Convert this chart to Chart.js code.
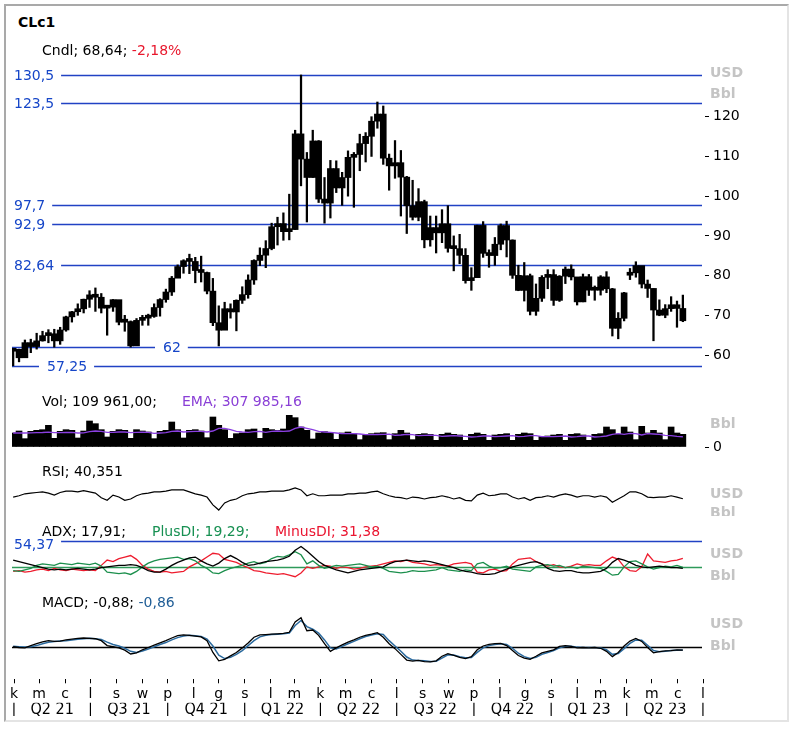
<!DOCTYPE html>
<html>
<head>
<meta charset="utf-8">
<title>CLc1</title>
<script src="https://cdn.jsdelivr.net/npm/chart.js@4.4.0/dist/chart.umd.min.js"></script>
<style>
  body { margin: 0; background: #fff; }
  #wrap { position: relative; width: 793px; height: 729px; overflow: hidden; background: #fff;
          font-family: 'DejaVu Sans', Verdana, sans-serif; font-size: 14px; color: #000; }
  #frame { position: absolute; left: 4px; top: 4px; width: 781px; height: 714px;
           border-top: 2px solid #a9a9a9; border-left: 2px solid #a9a9a9;
           border-right: 2px solid #e4e4e4; border-bottom: 2px solid #e4e4e4; }
  canvas { position: absolute; }
  .t { position: absolute; white-space: nowrap; line-height: 16px; }
  .u { position: absolute; left: 710px; color: #c4c4c4; font-weight: bold; line-height: 16px; }
  .clip { position: absolute; left: 700px; width: 80px; overflow: hidden; }
</style>
</head>
<body>
<div id="wrap">
  <div id="frame"></div>

  <div class="t" style="left:18px;top:14px;font-weight:bold">CLc1</div>
  <div class="t" style="left:42px;top:42px">Cndl; 68,64; <span style="color:#e8172c">-2,18%</span></div>
  <div class="u" style="top:64px">USD</div>
  <div class="u" style="top:85px">Bbl</div>

  <div class="t" style="left:42px;top:393px">Vol; 109 961,00;</div>
  <div class="t" style="left:182px;top:393px;color:#8a3fd6">EMA; 307 985,16</div>
  <div class="u" style="top:415px">Bbl</div>

  <div class="t" style="left:42px;top:463px">RSI; 40,351</div>
  <div class="clip" style="top:484px;height:32px">
    <div class="u" style="left:10px;top:1px">USD</div>
    <div class="u" style="left:10px;top:20px">Bbl</div>
  </div>

  <div class="t" style="left:42px;top:523px">ADX; 17,91;</div>
  <div class="t" style="left:152px;top:523px;color:#179052">PlusDI; 19,29;</div>
  <div class="t" style="left:275px;top:523px;color:#ea1530">MinusDI; 31,38</div>
  <div class="u" style="top:545px">USD</div>
  <div class="u" style="top:567px">Bbl</div>

  <div class="t" style="left:42px;top:594px">MACD; -0,88; <span style="color:#1f5d96">-0,86</span></div>
  <div class="u" style="top:615px">USD</div>
  <div class="u" style="top:637px">Bbl</div>
</div>

<script>
// ---- data (one candle per week, weeks starting Mon 29 Mar 2021) ----
const weekStart = '2021-03-29';

const opens = [
  60.97, 61.45, 59.32, 63.13, 62.14, 63.58, 64.90, 65.37, 63.58, 66.32,
  69.62, 70.91, 71.64, 74.05, 75.16, 74.56, 71.81, 72.07, 73.95, 68.28,
  68.44, 62.32, 68.74, 69.29, 69.72, 71.97, 73.98, 75.88, 79.35, 82.28,
  83.76, 83.57, 81.27, 80.79, 76.10, 68.15, 66.26, 71.67, 70.86, 73.79,
  75.21, 78.90, 83.82, 85.14, 86.82, 92.31, 93.10, 91.07, 91.59, 115.68,
  109.33, 104.70, 113.90, 99.27, 98.26, 106.95, 102.07, 104.69, 109.77, 110.49,
  113.23, 115.07, 118.87, 120.67, 109.56, 107.62, 108.43, 104.79, 97.59, 94.70,
  98.62, 89.01, 92.09, 90.77, 93.06, 86.87, 86.79, 85.11, 78.74, 79.49,
  92.64, 85.61, 85.05, 87.90, 92.61, 88.96, 80.08, 76.28, 79.98, 71.02,
  74.29, 79.56, 80.26, 73.77, 79.86, 81.64, 79.68, 73.39, 79.72, 76.34,
  76.32, 79.68, 76.68, 66.74, 69.26, 80.10, 80.70, 82.52, 77.87, 76.78,
  71.34, 70.04, 71.69, 72.67, 71.74
];
const closes = [
  61.45, 59.32, 63.13, 62.14, 63.58, 64.90, 65.37, 63.58, 66.32, 69.62,
  70.91, 71.64, 74.05, 75.16, 74.56, 71.81, 72.07, 73.95, 68.28, 68.44,
  62.32, 68.74, 69.29, 69.72, 71.97, 73.98, 75.88, 79.35, 82.28, 83.76,
  83.57, 81.27, 80.79, 76.10, 68.15, 66.26, 71.67, 70.86, 73.79, 75.21,
  78.90, 83.82, 85.14, 86.82, 92.31, 93.10, 91.07, 91.59, 115.68, 109.33,
  104.70, 113.90, 99.27, 98.26, 106.95, 102.07, 104.69, 109.77, 110.49, 113.23,
  115.07, 118.87, 120.67, 109.56, 107.62, 108.43, 104.79, 97.59, 94.70, 98.62,
  89.01, 92.09, 90.77, 93.06, 86.87, 86.79, 85.11, 78.74, 79.49, 92.64,
  85.61, 85.05, 87.90, 92.61, 88.96, 80.08, 76.28, 79.98, 71.02, 74.29,
  79.56, 80.26, 73.77, 79.86, 81.64, 79.68, 73.39, 79.72, 76.34, 76.32,
  79.68, 76.68, 66.74, 69.26, 75.67, 80.70, 82.52, 77.87, 76.78, 71.34,
  70.04, 71.69, 72.67, 71.74, 68.64
];
const lows = [
  57.3, 58.3, 59.4, 60.6, 61.5, 63.5, 63.1, 62.0, 62.7, 66.0,
  68.3, 70.0, 70.6, 72.0, 71.0, 70.6, 65.0, 71.0, 67.6, 66.0,
  62.0, 62.5, 67.5, 67.5, 69.5, 69.8, 73.3, 75.0, 79.5, 80.6,
  80.5, 78.2, 78.4, 75.4, 67.4, 62.3, 68.0, 69.3, 66.1, 73.0,
  74.3, 77.8, 82.5, 82.0, 86.5, 87.7, 88.9, 89.0, 91.6, 102.6,
  93.5, 104.7, 98.4, 93.2, 94.5, 100.9, 97.7, 100.0, 97.2, 106.4,
  108.6, 110.0, 117.1, 108.0, 101.5, 104.5, 95.0, 90.6, 94.0, 93.8,
  87.0, 87.4, 85.7, 88.3, 85.9, 81.2, 83.0, 78.1, 76.3, 79.5,
  84.6, 82.1, 82.6, 86.5, 84.7, 79.3, 76.2, 73.6, 70.1, 70.0,
  73.5, 76.7, 72.5, 73.5, 78.0, 78.9, 72.6, 73.4, 75.0, 73.8,
  75.1, 75.7, 64.8, 64.1, 68.6, 79.0, 79.6, 76.9, 74.5, 63.6,
  69.9, 69.4, 71.0, 67.0, 68.4
];
const highs = [
  61.5, 61.5, 63.8, 64.0, 65.5, 66.0, 66.4, 66.5, 67.0, 69.8,
  71.0, 72.9, 74.1, 76.2, 76.9, 75.5, 72.3, 74.0, 72.0, 70.0,
  68.6, 69.2, 70.0, 70.3, 72.9, 74.2, 76.6, 79.8, 82.7, 84.0,
  85.4, 84.6, 84.9, 80.9, 79.3, 72.4, 73.3, 72.9, 73.9, 77.2,
  80.2, 84.0, 87.0, 88.8, 93.2, 94.7, 95.8, 100.5, 116.6, 130.5,
  111.0, 116.6, 114.0, 104.7, 109.0, 108.9, 106.0, 111.4, 111.0, 115.6,
  116.0, 120.0, 123.7, 122.7, 110.6, 114.0, 111.5, 105.0, 104.0, 101.9,
  99.0, 95.0, 95.0, 96.6, 97.6, 90.0, 90.4, 86.8, 82.0, 92.7,
  93.6, 86.5, 89.6, 93.0, 93.7, 89.0, 82.6, 83.3, 80.4, 77.9,
  80.0, 81.5, 81.5, 80.0, 82.2, 82.7, 79.5, 80.4, 80.3, 77.4,
  80.0, 81.0, 76.8, 70.7, 75.8, 81.8, 83.5, 82.1, 78.9, 76.7,
  73.9, 72.7, 74.7, 73.6, 75.1
];
const priceLevels = [130.5, 123.5, 97.7, 92.9, 82.64, 62, 57.25];
const priceTicks = [60, 70, 80, 90, 100, 110, 120];

// volume and its EMA, thousands of contracts
const volume = [
  420, 480, 250, 470, 500, 520, 650, 260, 470, 520,
  500, 270, 480, 780, 700, 520, 300, 470, 520, 500,
  260, 520, 480, 450, 250, 470, 500, 750, 520, 270,
  500, 520, 480, 280, 900, 650, 520, 260, 400, 420,
  520, 540, 260, 560, 520, 500, 540, 950, 880, 600,
  500, 240, 420, 460, 430, 230, 420, 450, 400, 220,
  380, 400, 420, 430, 220, 400, 500, 420, 220, 380,
  400, 380, 200, 380, 420, 380, 360, 200, 380, 420,
  380, 200, 360, 380, 400, 200, 380, 420, 400, 200,
  320, 330, 360, 380, 200, 380, 400, 360, 200, 380,
  400, 600, 520, 380, 600, 450, 220, 620, 420, 500,
  420, 220, 600, 420, 380
];
const volumeEma = [
  420, 425, 420, 425, 430, 435, 445, 430, 430, 435,
  440, 420, 425, 460, 480, 470, 440, 440, 450, 450,
  430, 440, 445, 440, 410, 420, 430, 470, 480, 450,
  460, 470, 470, 450, 480, 560, 560, 520, 470, 450,
  440, 460, 470, 440, 470, 480, 470, 480, 560, 600,
  560, 520, 470, 450, 440, 420, 400, 400, 400, 390,
  370, 370, 375, 380, 385, 350, 360, 380, 370, 340,
  350, 355, 350, 320, 330, 340, 330, 320, 300, 310,
  330, 330, 310, 320, 330, 340, 310, 320, 340, 340,
  310, 310, 310, 320, 330, 300, 310, 330, 330, 300,
  310, 330, 380, 400, 380, 410, 400, 360, 400, 390,
  380, 350, 340, 320, 308
];
const volumeTicks = [0];

const rsi = [
  43, 45, 48, 49, 50, 51, 49, 46, 50, 52,
  52, 51, 53, 51, 49, 42, 38, 46, 43, 38,
  40, 45, 48, 49, 51, 51, 52, 54, 54, 54,
  51, 48, 46, 43, 31, 23, 34, 38, 40, 45,
  48, 49, 51, 51, 52, 52, 52, 54, 57, 54,
  45, 48, 45, 45, 46, 46, 46, 48, 48, 49,
  49, 51, 52, 48, 45, 43, 42, 40, 43, 42,
  40, 42, 43, 45, 43, 40, 42, 38, 37, 46,
  49, 45, 46, 48, 48, 43, 40, 42, 38, 42,
  43, 45, 43, 46, 48, 46, 43, 45, 45, 43,
  45, 43, 35, 40, 45, 51, 51, 48, 43, 42,
  43, 43, 45, 43, 40.35
];

const adx = [
  29, 27, 25, 23, 21, 19, 17, 16, 17, 16,
  17, 18, 17, 16, 17, 19, 20, 21, 22, 22,
  23, 22, 19, 15, 13, 13, 17, 22, 26, 29,
  32, 33, 28, 24, 21, 25, 31, 35, 31, 26,
  22, 23, 25, 27, 28, 29, 31, 34, 42, 47,
  41, 34, 27, 22, 19, 16, 14, 12, 14, 16,
  17, 18, 19, 20, 24, 27, 28, 29, 28, 27,
  28, 27, 25, 23, 21, 19, 16, 14, 13, 11,
  10, 10, 11, 14, 17, 20, 22, 24, 26, 27,
  24, 18, 15, 14, 15, 15, 13, 12, 12, 13,
  14, 18, 26, 31, 29, 26, 22, 20, 19, 20,
  21, 20, 19, 19, 17.91
];
const plusDI = [
  15, 14, 16, 18, 22, 24, 23, 22, 25, 24,
  23, 25, 24, 23, 25, 21, 13, 12, 11, 12,
  10, 14, 20, 25, 28, 30, 31, 32, 33, 30,
  31, 28, 22, 18, 12, 11, 15, 18, 20, 22,
  25, 27, 24, 26, 31, 34, 33, 36, 40, 36,
  24, 28, 22, 18, 20, 22, 21, 22, 23, 24,
  22, 20, 21, 18, 14, 13, 12, 13, 15, 14,
  14, 15, 16, 19, 16, 15, 14, 16, 15, 24,
  26, 21, 18, 19, 21, 17, 16, 15, 14, 20,
  22, 23, 21, 22, 19, 20, 18, 21, 20, 19,
  18, 14, 9, 10, 20, 27, 28, 24, 20, 17,
  19, 21, 20, 22, 19.29
];
const minusDI = [
  14, 15, 13, 14, 16, 17, 15, 18, 16, 15,
  17, 16, 15, 16, 15, 22, 29, 27, 31, 33,
  35, 30, 22, 17, 14, 13, 14, 12, 13, 14,
  20, 24, 28, 33, 38, 37, 30, 28, 26, 22,
  19, 15, 14, 12, 11, 10, 11, 9, 7, 12,
  20, 18, 20, 22, 21, 18, 20, 19, 17, 18,
  20, 21, 22, 24, 26, 28, 27, 29, 26, 25,
  24, 22, 23, 22, 21, 24, 25, 26, 24, 13,
  12, 16, 17, 14, 15, 24, 30, 31, 32, 27,
  24, 21, 23, 20, 19, 21, 24, 22, 23, 22,
  22, 28, 33, 30, 20, 15, 14, 20, 37, 28,
  27, 26, 28, 29, 31.38
];
const adxLevel = 20;
const adxMax = 54.37;

const macd = [
  0, -0.2, -0.3, 0.3, 0.8, 1.3, 1.6, 1.4, 1.5, 1.8,
  2.0, 2.2, 2.3, 2.2, 2.1, 1.6, 0.3, 0.0, -0.3, -0.9,
  -1.9, -1.6, -0.8, -0.2, 0.4, 1.0, 1.6, 2.3, 2.9, 3.1,
  3.0, 2.8, 2.6, 1.6, -1.5, -3.7, -3.3, -2.4, -1.5, -0.3,
  1.0, 2.5, 3.1, 3.2, 3.3, 3.4, 3.5, 3.8, 6.5, 7.6,
  4.2, 4.4, 3.0, 0.8, -1.2, -0.3, 0.5, 1.2, 1.8, 2.5,
  3.0, 3.3, 3.7, 2.5, 0.8, -0.5, -2.0, -3.5, -3.8, -3.6,
  -3.9, -4.0, -3.7, -2.5, -1.8, -2.3, -2.8, -3.1, -2.6, -0.8,
  0.2, 0.6, 0.8, 0.9, 0.3, -1.0, -2.3, -3.0, -3.3, -2.5,
  -1.6, -1.2, -0.8, 0.1, 0.3, 0.1, -0.3, -0.2, -0.3, -0.2,
  -0.4, -1.2, -2.6, -1.5, 0.2, 1.5, 2.2, 1.4, -0.2, -1.6,
  -1.3, -1.1, -1.0, -0.8, -0.88
];
const macdSignal = [
  0.1, 0.0, -0.1, 0.0, 0.3, 0.8, 1.2, 1.4, 1.5, 1.6,
  1.8, 2.0, 2.1, 2.2, 2.1, 1.9, 1.2, 0.6, 0.2, -0.4,
  -1.2, -1.5, -1.1, -0.6, 0.0, 0.6, 1.1, 1.8, 2.4, 2.8,
  3.0, 2.9, 2.7, 2.0, 0.2, -2.2, -3.1, -2.8, -2.0, -1.0,
  0.3, 1.6, 2.6, 3.0, 3.2, 3.3, 3.4, 3.6, 5.6, 6.9,
  5.3, 4.6, 3.6, 1.8, -0.3, -0.6, 0.1, 0.8, 1.4, 2.1,
  2.7, 3.1, 3.4, 3.2, 1.6, 0.2, -1.2, -2.7, -3.5, -3.6,
  -3.7, -3.9, -3.8, -3.0, -2.1, -2.2, -2.6, -2.9, -2.8, -1.5,
  -0.3, 0.3, 0.6, 0.8, 0.6, -0.4, -1.7, -2.6, -3.1, -2.8,
  -2.0, -1.5, -1.0, -0.3, 0.1, 0.1, -0.1, -0.2, -0.2, -0.2,
  -0.3, -0.8, -2.0, -1.8, -0.5, 0.9, 1.8, 1.7, 0.4, -1.0,
  -1.3, -1.2, -1.0, -0.9, -0.86
];

// x axis: Polish month initials from April 2021 to July 2023, quarter names
const monthLetters = ['k','m','c','l','s','w','p','l','g','s','l','m','k','m','c',
                      'l','s','w','p','l','g','s','l','m','k','m','c','l'];
const quarterNames = ['Q2 21','Q3 21','Q4 21','Q1 22','Q2 22','Q3 22','Q4 22','Q1 23','Q2 23'];

// ---- layout ----
const FONT = 'DejaVu Sans';
const NARROW = "'Liberation Sans Narrow', 'DejaVu Sans Condensed', sans-serif";
const BLUE = '#2142c4';
const GREEN = '#1b8f4c';
const RED = '#ee1c2e';
const PURPLE = '#8a3fe0';
const STEEL = '#2b6a9e';

const X0 = 14;                       // pixel of 1 Apr 2021
const PX_PER_DAY = (703 - X0) / 821; // 1 Jul 2023 at 703
const PLOT_L = 12, PLOT_R = 702, CANVAS_W = 790, PAD = 14;
const levelLabelLeft = [14, 14, 14, 14, 14, 163, 47];

Chart.defaults.font.family = FONT;
Chart.defaults.font.size = 14;
Chart.defaults.color = '#000';

const DAY = 864e5;
const origin = Date.UTC(2021, 3, 1);
const dayOf = s => (Date.parse(s) - origin) / DAY;
const weekX = lows.map((_, i) => dayOf(weekStart) + 7 * i + 2);
const monthDays = monthLetters.map((_, j) => (Date.UTC(2021, 3 + j, 1) - origin) / DAY);

function xLimits(left, right) {
  return { min: (left - X0) / PX_PER_DAY, max: (right - X0) / PX_PER_DAY };
}
function points(arr) { return arr.map((v, i) => ({ x: weekX[i], y: v })); }

const wrap = document.getElementById('wrap');
function makeCanvas(top, h) {
  const c = document.createElement('canvas');
  c.width = CANVAS_W; c.height = h;
  c.style.left = '0px'; c.style.top = top + 'px';
  c.style.width = CANVAS_W + 'px'; c.style.height = h + 'px';
  wrap.insertBefore(c, wrap.children[1]);
  return c.getContext('2d');
}

function rightAxis(ticks, min, max) {
  return {
    display: true, position: 'right', min, max,
    afterFit: s => { s.width = CANVAS_W - PLOT_R; },
    afterBuildTicks: s => { s.ticks = ticks.map(v => ({ value: v })); },
    grid: { drawOnChartArea: false, tickLength: 7, tickColor: '#000', tickBorderDash: [0, 3, 4, 20] },
    border: { display: false },
    ticks: { color: '#000', padding: 4, font: { family: FONT, size: 14 } }
  };
}

function line(ctx, x1, x2, y, color, w) {
  ctx.strokeStyle = color; ctx.lineWidth = w;
  ctx.beginPath(); ctx.moveTo(x1, y); ctx.lineTo(x2, y); ctx.stroke();
}

function labelBox(ctx, area, text, left, py, color, fromEdge) {
  ctx.font = '14px ' + FONT;
  const w = ctx.measureText(text).width;
  ctx.fillStyle = '#fff';
  const x1 = fromEdge ? area.left : left - 8;
  ctx.fillRect(x1, py - 8, left + w + 7 - x1, 16);
  ctx.fillStyle = color;
  ctx.textBaseline = 'middle';
  ctx.fillText(text, left, py + 1);
}

function pane(top, bottom, type, datasets, yScale, showAxis, plugins) {
  const ctx = makeCanvas(top - PAD, bottom - top + 2 * PAD);
  const xl = xLimits(PLOT_L, PLOT_R);
  return new Chart(ctx, {
    type,
    data: { datasets },
    options: {
      responsive: false, animation: false, events: [],
      layout: { padding: { left: PLOT_L, right: showAxis ? 0 : CANVAS_W - PLOT_R, top: PAD, bottom: PAD } },
      plugins: { legend: { display: false }, tooltip: { enabled: false } },
      scales: {
        x: { type: 'linear', display: false, min: xl.min, max: xl.max, offset: false },
        y: yScale
      }
    },
    plugins: plugins || []
  });
}

// ---- price pane: weekly candles (wick + body) ----
const priceLevelsPlugin = {
  id: 'priceLevels',
  beforeDatasetsDraw(chart) {
    const { ctx, chartArea: a, scales: { y } } = chart;
    ctx.save();
    priceLevels.forEach((v, k) => {
      const py = Math.round(y.getPixelForValue(v)) + 0.5;
      line(ctx, a.left, a.right, py, BLUE, 1.6);
      const txt = String(v).replace('.', ',');
      labelBox(ctx, a, txt, levelLabelLeft[k], py, '#1646c8', levelLabelLeft[k] < 20);
    });
    ctx.restore();
  }
};
pane(62, 385, 'bar', [
  { data: weekX.map((x, i) => ({ x, y: [lows[i], highs[i]] })),
    backgroundColor: '#000', borderWidth: 0, barThickness: 1.6, grouped: false },
  { data: weekX.map((x, i) => ({ x, y: [Math.min(opens[i], closes[i]), Math.max(opens[i], closes[i])] })),
    backgroundColor: '#000', borderWidth: 0, barThickness: 6, grouped: false, minBarLength: 3 }
], rightAxis(priceTicks, 52.47, 133.77), true, [priceLevelsPlugin]);

// ---- volume pane ----
pane(405, 447, 'bar', [
  { type: 'line', data: points(volumeEma), borderColor: PURPLE, borderWidth: 1.3, pointRadius: 0, order: 0 },
  { type: 'bar', data: points(volume), backgroundColor: '#000', borderWidth: 0, barThickness: 6, order: 1 }
], rightAxis(volumeTicks, 0, 1260), true);

// ---- RSI pane ----
pane(460, 525, 'line', [
  { data: points(rsi), borderColor: '#000', borderWidth: 1.2, pointRadius: 0 }
], { display: false, min: 0, max: 100 }, false);

// ---- ADX pane ----
const adxLinesPlugin = {
  id: 'adxLines',
  beforeDatasetsDraw(chart) {
    const { ctx, chartArea: a, scales: { y } } = chart;
    ctx.save();
    line(ctx, a.left, a.right, Math.round(y.getPixelForValue(adxLevel)) + 0.5, '#2e9a5a', 1.6);
    const py = Math.round(y.getPixelForValue(adxMax)) + 0.5;
    line(ctx, a.left, a.right, py, BLUE, 1.6);
    labelBox(ctx, a, String(adxMax).replace('.', ','), 14, py + 3, '#1646c8', true);
    ctx.restore();
  }
};
pane(522, 582, 'line', [
  { data: points(adx), borderColor: '#000', borderWidth: 1.3, pointRadius: 0 },
  { data: points(plusDI), borderColor: GREEN, borderWidth: 1.3, pointRadius: 0 },
  { data: points(minusDI), borderColor: RED, borderWidth: 1.3, pointRadius: 0 }
], { display: false, min: 0, max: 79.4 }, false, [adxLinesPlugin]);

// ---- MACD pane ----
const zeroLinePlugin = {
  id: 'zeroLine',
  beforeDatasetsDraw(chart) {
    const { ctx, chartArea: a, scales: { y } } = chart;
    ctx.save();
    line(ctx, a.left, a.right, Math.round(y.getPixelForValue(0)) + 0.5, '#000', 1.3);
    ctx.restore();
  }
};
pane(610, 665, 'line', [
  { data: points(macd), borderColor: '#000', borderWidth: 1.3, pointRadius: 0 },
  { data: points(macdSignal), borderColor: STEEL, borderWidth: 1.5, pointRadius: 0 }
], { display: false, min: -4.8, max: 9.66 }, false, [zeroLinePlugin]);

// ---- time axis: months and quarters ----
const quarterTicks = [];
const quarterText = [];
quarterNames.forEach((q, k) => {
  quarterTicks.push(monthDays[3 * k]); quarterText.push('|');
  quarterTicks.push((monthDays[3 * k] + monthDays[3 * k + 3]) / 2); quarterText.push(q);
});
quarterTicks.push(monthDays[27]); quarterText.push('|');

const axLim = xLimits(PLOT_L, 708);
new Chart(makeCanvas(669, 47), {
  type: 'line',
  data: { datasets: [] },
  options: {
    responsive: false, animation: false, events: [],
    layout: { padding: { left: PLOT_L, right: CANVAS_W - 708, top: 0, bottom: 0 } },
    plugins: { legend: { display: false }, tooltip: { enabled: false } },
    scales: {
      x: { display: false },
      y: { display: false },
      months: {
        axis: 'x', type: 'linear', position: 'bottom', weight: 1, min: axLim.min, max: axLim.max,
        afterBuildTicks: s => { s.ticks = monthDays.map(v => ({ value: v })); },
        grid: { drawOnChartArea: false, tickLength: 4, color: '#000' },
        border: { display: false },
        ticks: { autoSkip: false, maxRotation: 0, padding: 3, color: '#000',
                 font: { family: FONT, size: 14 }, callback: (v, i) => monthLetters[i] }
      },
      quarters: {
        axis: 'x', type: 'linear', position: 'bottom', weight: 2, min: axLim.min, max: axLim.max,
        afterBuildTicks: s => { s.ticks = quarterTicks.map(v => ({ value: v })); },
        grid: { display: false, drawTicks: false },
        border: { display: false },
        ticks: { autoSkip: false, maxRotation: 0, padding: -3, color: '#000',
                 font: { family: NARROW, size: 16 }, callback: (v, i) => quarterText[i] }
      }
    }
  }
});
</script>
</body>
</html>
